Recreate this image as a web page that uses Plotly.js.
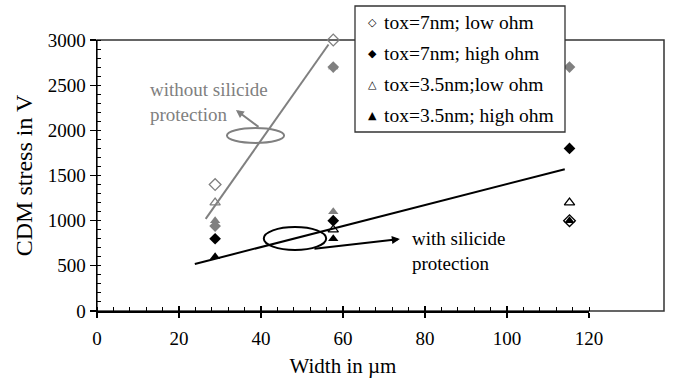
<!DOCTYPE html>
<html>
<head>
<meta charset="utf-8">
<script src="https://cdn.plot.ly/plotly-3.0.1.min.js"></script>
<style>html,body{margin:0;padding:0;background:#fff;}#chart{width:681px;height:379px;}</style>
</head>
<body>
<div id="chart"></div>
<script>
// ---- data (width in µm, CDM stress in V) ----
// without silicide protection (grey)
const widthWo7Low = [25, 50];
const cdmWo7Low = [1400, 3000];
const widthWo7High = [25, 50, 100];
const cdmWo7High = [940, 2700, 2700];
const widthWo35Low = [25];
const cdmWo35Low = [1200];
const widthWo35High = [25, 50, 50];
const cdmWo35High = [1000, 2700, 1100];
// with silicide protection (black)
const widthW7Low = [100];
const cdmW7Low = [1000];
const widthW7High = [25, 50, 100];
const cdmW7High = [800, 1000, 1800];
const widthW35Low = [50, 100];
const cdmW35Low = [900, 1200];
const widthW35High = [25, 50, 100];
const cdmW35High = [600, 800, 1000];
// trend lines
const trendWoX = [23, 49];
const trendWoY = [1020, 2950];
const trendWX = [20.7, 99];
const trendWY = [520, 1570];
// axis ticks
const xTicks = [0, 20, 40, 60, 80, 100, 120];
const yTicks = [0, 500, 1000, 1500, 2000, 2500, 3000];
const legendLabels = ['tox=7nm; low ohm', 'tox=7nm; high ohm', 'tox=3.5nm;low ohm', 'tox=3.5nm; high ohm'];
const legendSymbols = ['\u25C7', '\u25C6', '\u25B3', '\u25B2'];

const GREY = '#808080';
const FONT = "'Liberation Serif', 'Times New Roman', serif";

function pts(x, y, sym, color, size) {
  return {x: x, y: y, type: 'scatter', mode: 'markers', xaxis: 'x', yaxis: 'y', showlegend: false, cliponaxis: false,
    marker: {symbol: sym, color: color, size: size, line: {color: color, width: sym.indexOf('open') >= 0 ? 1.3 : 0}}};
}

const traces = [
  {x: [], y: [], xaxis: 'x2', yaxis: 'y', type: 'scatter', mode: 'markers', showlegend: false},
  {x: [], y: [], xaxis: 'x3', yaxis: 'y', type: 'scatter', mode: 'markers', showlegend: false},
  {x: trendWoX, y: trendWoY, type: 'scatter', mode: 'lines', line: {color: GREY, width: 2}, showlegend: false},
  {x: trendWX, y: trendWY, type: 'scatter', mode: 'lines', line: {color: '#000', width: 2}, showlegend: false},
  pts(widthWo7Low, cdmWo7Low, 'diamond-open', GREY, 9),
  pts(widthWo7High, cdmWo7High, 'diamond', GREY, 9),
  pts(widthWo35Low, cdmWo35Low, 'triangle-up-open', GREY, 9),
  pts(widthWo35High, cdmWo35High, 'triangle-up', GREY, 9),
  pts(widthW7Low, cdmW7Low, 'diamond-open', '#000', 9),
  pts(widthW7High, cdmW7High, 'diamond', '#000', 9),
  pts(widthW35Low, cdmW35Low, 'triangle-up-open', '#000', 9),
  pts(widthW35High, cdmW35High, 'triangle-up', '#000', 9)
];

const L = 97, T = 40, W = 567, H = 271; // plot frame in px
function px(xp) { return (xp - L) / W; }
function py(yp) { return (T + H - yp) / H; }

const annotations = [
  {x: 29.4, y: 2225, ax: 34.5, ay: 2026, xref: 'x', yref: 'y', axref: 'x', ayref: 'y', text: '', showarrow: true,
   arrowhead: 2, arrowsize: 0.8, arrowwidth: 2, arrowcolor: GREY},
  {x: 64.1, y: 797, ax: 45.7, ay: 686, xref: 'x', yref: 'y', axref: 'x', ayref: 'y', text: '', showarrow: true,
   arrowhead: 2, arrowsize: 0.8, arrowwidth: 2, arrowcolor: '#000'},
  {x: px(148), y: py(101.5), xref: 'paper', yref: 'paper', xanchor: 'left', yanchor: 'middle', align: 'left',
   text: 'without silicide<br>protection', showarrow: false, font: {family: FONT, size: 19, color: GREY}},
  {x: px(410), y: py(250.5), xref: 'paper', yref: 'paper', xanchor: 'left', yanchor: 'middle', align: 'left',
   text: 'with silicide<br>protection', showarrow: false, font: {family: FONT, size: 19, color: '#000'}}
];
const rowY = [22, 53, 84, 115];
for (let i = 0; i < 4; i++) {
  annotations.push({x: px(372), y: py(rowY[i]), xref: 'paper', yref: 'paper', xanchor: 'center', yanchor: 'middle',
    text: legendSymbols[i], showarrow: false, font: {family: 'DejaVu Sans', size: 11, color: '#000'}});
  annotations.push({x: px(382), y: py(rowY[i]), xref: 'paper', yref: 'paper', xanchor: 'left', yanchor: 'middle',
    text: legendLabels[i], showarrow: false, font: {family: FONT, size: 19.5, color: '#000'}});
}

const shapes = [
  {type: 'rect', xref: 'paper', yref: 'paper', x0: 0, x1: 1, y0: 0, y1: 1, line: {color: '#333', width: 1.5}, layer: 'below'},
  {type: 'circle', xref: 'x', yref: 'y', x0: 27.5, x1: 39.6, y0: 1860, y1: 2026, line: {color: GREY, width: 2}},
  {type: 'circle', xref: 'x', yref: 'y', x0: 35.3, x1: 48.5, y0: 675, y1: 930, line: {color: '#000', width: 2}},
  {type: 'rect', xref: 'paper', yref: 'paper', x0: px(355), x1: px(565), y0: py(132), y1: py(6),
   fillcolor: '#fff', line: {color: '#333', width: 1.3}, layer: 'above'}
];

const tickFont = {family: FONT, size: 19, color: '#000'};
const layout = {
  width: 681, height: 379,
  margin: {l: L, r: 681 - L - W, t: T, b: 379 - T - H, pad: 0},
  paper_bgcolor: '#fff', plot_bgcolor: 'rgba(0,0,0,0)',
  showlegend: false,
  font: {family: FONT, color: '#000'},
  xaxis: {domain: [0, 1], range: [0, 120], visible: false, fixedrange: true},
  xaxis2: {domain: [0, 492 / 567], range: [0, 120], autorange: false, anchor: 'y', tickvals: xTicks, ticktext: xTicks.map(String),
    showline: true, linecolor: '#000', linewidth: 1.5, ticks: 'outside', ticklen: 5, tickwidth: 1.3, tickcolor: '#000',
    ticklabelstandoff: 5,
    minor: {dtick: 4, ticks: 'inside', ticklen: 4, tickwidth: 1, tickcolor: '#000'},
    showgrid: false, zeroline: false, tickfont: tickFont,
    title: {text: 'Width in \u00B5m', font: {family: FONT, size: 21, color: '#000'}, standoff: 10}},
  xaxis3: {domain: [0, 492 / 567], range: [0, 120], autorange: false, anchor: 'y', tickvals: xTicks, showticklabels: false,
    showline: false, ticks: 'inside', ticklen: 5, tickwidth: 1.3, tickcolor: '#000', showgrid: false, zeroline: false},
  yaxis: {range: [0, 3000], autorange: false, tickvals: yTicks, ticktext: yTicks.map(String), showline: true, linecolor: '#000', linewidth: 1.5,
    ticks: 'outside', ticklen: 6, tickwidth: 1.3, tickcolor: '#000',
    minor: {dtick: 100, ticks: 'inside', ticklen: 4, tickwidth: 1, tickcolor: '#000'},
    showgrid: false, zeroline: false, tickfont: tickFont, fixedrange: true,
    title: {text: 'CDM stress in V', font: {family: FONT, size: 24, color: '#000'}, standoff: 8}},
  shapes: shapes,
  annotations: annotations
};

Plotly.newPlot('chart', traces, layout, {displayModeBar: false, staticPlot: true});
</script>
</body>
</html>
